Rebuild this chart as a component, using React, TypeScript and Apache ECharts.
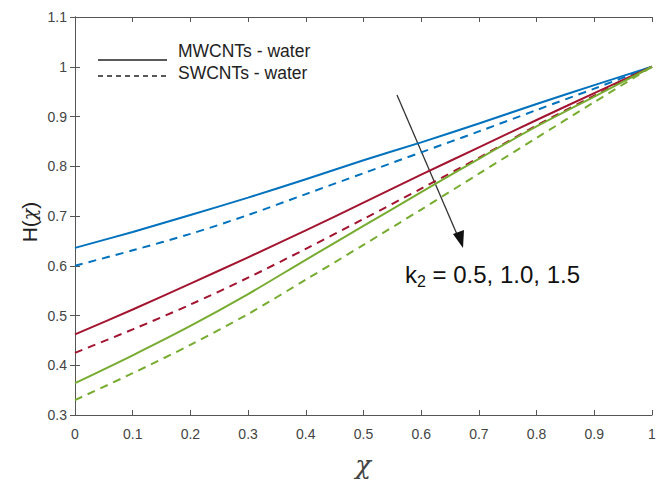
import React, { useEffect, useRef } from "react";
import * as echarts from "echarts";

const chi = [0, 0.1, 0.2, 0.3, 0.4, 0.5, 0.6, 0.7, 0.8, 0.9, 1.0];
const mwcnt_k05 = [0.636, 0.668, 0.702, 0.737, 0.774, 0.812, 0.848, 0.886, 0.925, 0.963, 1.0];
const swcnt_k05 = [0.600, 0.631, 0.664, 0.702, 0.744, 0.786, 0.828, 0.870, 0.913, 0.956, 1.0];
const mwcnt_k10 = [0.462, 0.512, 0.564, 0.617, 0.671, 0.727, 0.783, 0.838, 0.893, 0.947, 1.0];
const swcnt_k10 = [0.425, 0.472, 0.522, 0.576, 0.634, 0.694, 0.755, 0.817, 0.882, 0.942, 1.0];
const mwcnt_k15 = [0.364, 0.420, 0.479, 0.543, 0.612, 0.680, 0.748, 0.815, 0.880, 0.940, 1.0];
const swcnt_k15 = [0.330, 0.384, 0.441, 0.503, 0.572, 0.642, 0.713, 0.785, 0.857, 0.929, 1.0];

const legendLabels = ["MWCNTs - water", "SWCNTs - water"];

const BLUE = "#0072BD";
const RED = "#A2142F";
const GREEN = "#77AC30";
const SANS = "'Liberation Sans', Arial, sans-serif";
const SERIF = "'DejaVu Serif', 'Liberation Serif', serif";

const toPairs = (ys: number[]) => chi.map((x, i) => [x, ys[i]]);

export default function App() {
  const ref = useRef<HTMLDivElement>(null);
  useEffect(() => {
    if (!ref.current) return;
    const chart = echarts.init(ref.current, undefined, { renderer: "svg" });
    const axisLine = { show: true, lineStyle: { color: "#555", width: 1 } };
    const axisTick = { show: true, inside: true, length: 5, lineStyle: { color: "#555" } };
    const labelStyle = { color: "#444", fontSize: 14, fontFamily: SANS };
    const fmt = (v: number) => String(Math.round(v * 10) / 10);
    const mk = (name: string, ys: number[], color: string, dashed: boolean) => ({
      name,
      type: "line",
      data: toPairs(ys),
      smooth: 0.3,
      symbol: "none",
      lineStyle: { color, width: 2, type: dashed ? [8, 6] : "solid" },
      z: 3,
    });
    chart.setOption({
      animation: false,
      backgroundColor: "#fff",
      grid: { left: 75, right: 13, top: 17, bottom: 66, containLabel: false },
      xAxis: [
        {
          type: "value", min: 0, max: 1, interval: 0.1, position: "bottom",
          axisLine, axisTick, splitLine: { show: false },
          axisLabel: { ...labelStyle, margin: 12, formatter: fmt },
        },
        {
          type: "value", min: 0, max: 1, interval: 0.1, position: "top",
          axisLine, axisTick, splitLine: { show: false }, axisLabel: { show: false },
        },
      ],
      yAxis: [
        {
          type: "value", min: 0.3, max: 1.1, interval: 0.1, position: "left",
          axisLine, axisTick, splitLine: { show: false },
          axisLabel: { ...labelStyle, margin: 8, formatter: fmt },
        },
        {
          type: "value", min: 0.3, max: 1.1, interval: 0.1, position: "right",
          axisLine, axisTick, splitLine: { show: false }, axisLabel: { show: false },
        },
      ],
      series: [
        mk("MWCNTs k2=0.5", mwcnt_k05, BLUE, false),
        mk("SWCNTs k2=0.5", swcnt_k05, BLUE, true),
        mk("MWCNTs k2=1.0", mwcnt_k10, RED, false),
        mk("SWCNTs k2=1.0", swcnt_k10, RED, true),
        mk("MWCNTs k2=1.5", mwcnt_k15, GREEN, false),
        mk("SWCNTs k2=1.5", swcnt_k15, GREEN, true),
      ],
      graphic: [
        {
          type: "line", shape: { x1: 98, y1: 60, x2: 167, y2: 60 },
          style: { stroke: "#222", lineWidth: 1.5 },
        },
        {
          type: "line", shape: { x1: 98, y1: 76, x2: 167, y2: 76 },
          style: { stroke: "#222", lineWidth: 1.5, lineDash: [5, 4] },
        },
        {
          type: "text", x: 178, y: 51,
          style: { text: legendLabels[0], fill: "#222", fontSize: 17.5, fontFamily: SANS, verticalAlign: "middle" },
        },
        {
          type: "text", x: 178, y: 73,
          style: { text: legendLabels[1], fill: "#222", fontSize: 17.5, fontFamily: SANS, verticalAlign: "middle" },
        },
        {
          type: "line", shape: { x1: 397, y1: 95, x2: 459, y2: 239 },
          style: { stroke: "#333", lineWidth: 1.3 },
        },
        {
          type: "polygon", shape: { points: [[463, 248], [453, 234], [464, 230]] },
          style: { fill: "#111" },
        },
        {
          type: "text", x: 405, y: 274,
          style: {
            text: "{a|k}{s|2}{a| = 0.5, 1.0, 1.5}",
            rich: {
              a: { fontSize: 24, fill: "#111", fontFamily: SANS },
              s: { fontSize: 16, fill: "#111", fontFamily: SANS, padding: [14, 0, 0, 0] },
            },
            verticalAlign: "middle",
          },
        },
        {
          type: "text", x: 29, y: 222, rotation: Math.PI / 2,
          style: {
            text: "{a|H(}{g|χ}{a|)}",
            rich: {
              a: { fontSize: 21, fill: "#222", fontFamily: SANS },
              g: { fontSize: 19, fill: "#222", fontFamily: SERIF, fontStyle: "italic" },
            },
            align: "center", verticalAlign: "middle",
          },
        },
        {
          type: "text", x: 363, y: 465,
          style: { text: "χ", fill: "#444", fontSize: 26, fontFamily: SERIF, fontStyle: "italic", align: "center", verticalAlign: "middle" },
        },
      ],
    });
    return () => chart.dispose();
  }, []);
  return <div ref={ref} style={{ width: 665, height: 481, position: "absolute", left: 0, top: 0 }} />;
}
